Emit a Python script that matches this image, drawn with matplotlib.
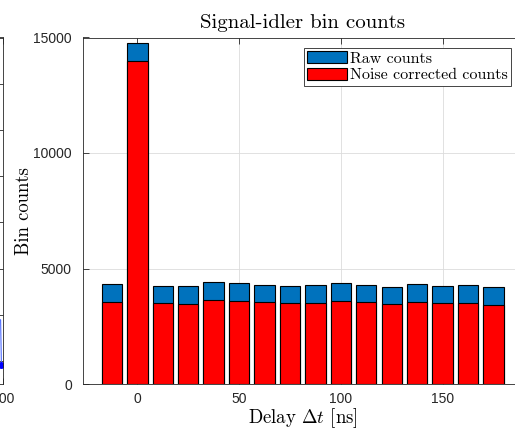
import numpy as np
import matplotlib
matplotlib.use("Agg")
import matplotlib.pyplot as plt

# bin centres (ns) and counts
delays = [-12.5, 0, 12.5, 25, 37.5, 50, 62.5, 75, 87.5, 100, 112.5, 125, 137.5, 150, 162.5, 175]
raw_counts = [4316, 14750, 4255, 4228, 4400, 4358, 4300, 4242, 4286, 4358, 4300, 4213, 4343, 4255, 4286, 4199]
corrected_counts = [3537, 14000, 3492, 3477, 3622, 3579, 3535, 3492, 3520, 3579, 3535, 3448, 3564, 3492, 3506, 3434]

# cut-off neighbouring panel on the left edge
side_x = [196, 198.8, 199.2]
side_y = [0.9, 0.89, -0.09]

plt.rcParams['mathtext.fontset'] = 'cm'
plt.rcParams['font.family'] = ['Liberation Sans', 'DejaVu Sans']
plt.rcParams['axes.unicode_minus'] = False

W, H = 515, 428
fig = plt.figure(figsize=(W / 100, H / 100), dpi=100)

axcol = '#262626'
blue = '#0072BD'
red = '#FF0000'
serif = 'cmr10'

# main panel
ax = fig.add_axes([83 / W, (H - 384) / H, 439 / W, 346.5 / H])
ax.bar(delays, raw_counts, width=10, color=blue, edgecolor='black', linewidth=0.8,
       label='Raw counts', zorder=2)
ax.bar(delays, corrected_counts, width=10, color=red, edgecolor='black', linewidth=0.8,
       label='Noise corrected counts', zorder=3)
ax.set_xlim(-26.7, 189)
ax.set_ylim(0, 15000)
ax.set_xticks([0, 50, 100, 150])
ax.set_yticks([0, 5000, 10000, 15000])
ax.grid(True, color='#dcdcdc', linewidth=0.6, zorder=0)
ax.set_axisbelow(True)
ax.tick_params(direction='in', top=True, right=True, length=4, width=0.6,
               colors=axcol, labelsize=10)
ax.tick_params(axis='y', pad=8)
ax.tick_params(axis='x', pad=6)
for s in ax.spines.values():
    s.set_color(axcol)
    s.set_linewidth(0.6)

ax.set_title('Signal-idler bin counts', family=serif, fontsize=15, pad=7)
ax.set_xlabel(r'Delay $\Delta t$ [ns]', family=serif, fontsize=13.5, labelpad=0)
ax.set_ylabel('Bin counts', family=serif, fontsize=13.5, labelpad=0)

leg = ax.legend(loc='upper right', bbox_to_anchor=(511 / W, (H - 48) / H),
                bbox_transform=fig.transFigure, borderaxespad=0,
                prop={'family': serif, 'size': 11.5}, fancybox=False,
                framealpha=1, edgecolor=axcol, handlelength=2.5, handleheight=0.75,
                handletextpad=0.2, borderpad=0.2, labelspacing=0.15)
leg.get_frame().set_linewidth(0.6)

# left neighbour panel, mostly outside the figure
ax2 = fig.add_axes([-397 / W, (H - 384) / H, 400 / W, 346.5 / H])
ax2.plot(side_x, side_y, color='#4d6bff', linewidth=0.8)
ax2.plot(side_x[-1:], side_y[-1:], 'o', color='#0000ff', markersize=4)
ax2.set_xlim(0, 200)
ax2.set_ylim(-0.5, 7)
ax2.set_xticks([200])
ax2.set_yticks(np.arange(0, 8))
ax2.set_yticklabels([])
ax2.tick_params(direction='in', top=True, right=True, length=4, width=0.6,
                colors=axcol, labelsize=10, pad=6)
for s in ax2.spines.values():
    s.set_color(axcol)
    s.set_linewidth(0.6)

fig.savefig('out.png', dpi=100)
